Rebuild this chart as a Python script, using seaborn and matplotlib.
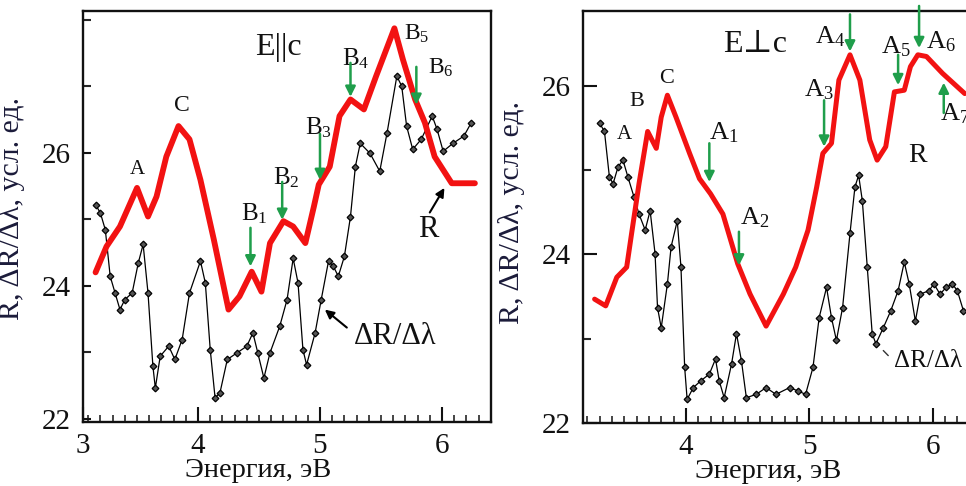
import numpy as np
import pandas as pd
import matplotlib
matplotlib.use("Agg")
import matplotlib.pyplot as plt
import seaborn as sns
from matplotlib.ticker import MultipleLocator

# ---------------- data ----------------
# Left panel, E||c : reflectivity R
l_R_E = [3.16, 3.25, 3.36, 3.50, 3.59, 3.66, 3.74, 3.84, 3.93, 4.02, 4.13, 4.25, 4.34,
         4.44, 4.52, 4.59, 4.70, 4.78, 4.88, 4.95, 4.99, 5.08, 5.16, 5.25, 5.36, 5.46,
         5.61, 5.68, 5.78, 5.86, 5.94, 6.08, 6.27]
l_R_V = [24.20, 24.59, 24.89, 25.47, 25.04, 25.34, 25.94, 26.40, 26.20, 25.59, 24.69,
         23.64, 23.84, 24.21, 23.91, 24.64, 24.97, 24.89, 24.64, 25.19, 25.52, 25.79,
         26.55, 26.80, 26.65, 27.15, 27.87, 27.40, 26.80, 26.45, 25.94, 25.54, 25.54]
# Left panel, E||c : derivative dR/dlambda
l_D_E = [3.16, 3.20, 3.24, 3.28, 3.32, 3.36, 3.40, 3.46, 3.51, 3.55, 3.59, 3.63, 3.65,
         3.69, 3.76, 3.81, 3.87, 3.93, 4.02, 4.06, 4.10, 4.14, 4.18, 4.24, 4.32, 4.40,
         4.45, 4.49, 4.54, 4.59, 4.67, 4.73, 4.78, 4.82, 4.86, 4.89, 4.96, 5.01, 5.07,
         5.11, 5.15, 5.20, 5.25, 5.29, 5.33, 5.41, 5.49, 5.55, 5.63, 5.67, 5.71, 5.76,
         5.83, 5.92, 5.96, 6.01, 6.09, 6.18, 6.24]
l_D_V = [25.22, 25.09, 24.84, 24.14, 23.89, 23.64, 23.79, 23.89, 24.34, 24.62, 23.89,
         22.79, 22.46, 22.94, 23.09, 22.89, 23.19, 23.89, 24.37, 24.04, 23.04, 22.31,
         22.39, 22.89, 22.99, 23.09, 23.29, 22.99, 22.61, 22.99, 23.39, 23.79, 24.41,
         24.04, 23.04, 22.81, 23.29, 23.79, 24.37, 24.29, 24.14, 24.44, 25.04, 25.79,
         26.14, 25.99, 25.72, 26.30, 27.15, 27.00, 26.40, 26.05, 26.20, 26.55, 26.35,
         26.02, 26.14, 26.25, 26.45]

# Right panel, E_|_c : reflectivity R
r_R_E = [3.26, 3.35, 3.44, 3.52, 3.56, 3.62, 3.69, 3.76, 3.80, 3.85, 3.92, 4.03, 4.11,
         4.20, 4.30, 4.42, 4.52, 4.65, 4.79, 4.89, 4.99, 5.06, 5.11, 5.18, 5.24, 5.33,
         5.41, 5.49, 5.55, 5.62, 5.69, 5.77, 5.82, 5.88, 5.95, 6.08, 6.26]
r_R_V = [23.47, 23.39, 23.73, 23.85, 24.25, 24.84, 25.46, 25.26, 25.63, 25.89, 25.63,
         25.20, 24.90, 24.72, 24.48, 23.89, 23.53, 23.15, 23.53, 23.85, 24.29, 24.80,
         25.20, 25.32, 26.07, 26.37, 26.07, 25.36, 25.12, 25.28, 25.93, 25.95, 26.23,
         26.37, 26.35, 26.15, 25.91]
# Right panel, E_|_c : derivative dR/dlambda
r_D_E = [3.30, 3.34, 3.38, 3.41, 3.45, 3.49, 3.53, 3.58, 3.62, 3.67, 3.71, 3.75, 3.77,
         3.80, 3.85, 3.88, 3.93, 3.96, 3.99, 4.01, 4.06, 4.12, 4.19, 4.24, 4.27, 4.31,
         4.37, 4.41, 4.45, 4.49, 4.57, 4.65, 4.73, 4.84, 4.91, 4.97, 5.03, 5.08, 5.14,
         5.18, 5.22, 5.27, 5.33, 5.37, 5.40, 5.43, 5.47, 5.51, 5.54, 5.60, 5.66, 5.72,
         5.77, 5.81, 5.86, 5.90, 5.97, 6.01, 6.06, 6.11, 6.16, 6.20, 6.25]
r_D_V = [25.56, 25.46, 24.92, 24.84, 25.04, 25.12, 24.92, 24.68, 24.48, 24.29, 24.52,
         24.01, 23.37, 23.13, 23.65, 24.09, 24.40, 23.85, 22.66, 22.28, 22.42, 22.50,
         22.58, 22.76, 22.50, 22.30, 22.70, 23.06, 22.74, 22.30, 22.34, 22.42, 22.34,
         22.42, 22.38, 22.34, 22.66, 23.25, 23.61, 23.25, 22.98, 23.37, 24.25, 24.80,
         24.94, 24.64, 23.85, 23.06, 22.94, 23.13, 23.33, 23.57, 23.91, 23.65, 23.21,
         23.53, 23.57, 23.65, 23.53, 23.61, 23.65, 23.57, 23.33]

x_ticks = [4, 5, 6]
x_tick_labels = ["4", "5", "6"]
y_ticks = [22, 24, 26]
y_tick_labels = ["22", "24", "26"]

# ---------------- style ----------------
sns.set_style("white")
plt.rcParams["font.family"] = ["Liberation Serif", "DejaVu Serif"]
plt.rcParams["mathtext.fontset"] = "custom"
plt.rcParams["mathtext.rm"] = "Liberation Serif"
plt.rcParams["mathtext.it"] = "Liberation Serif:italic"

RED = "#f21212"
GREEN = "#1f9e4b"
LABC = "#1b1b3a"

fig = plt.figure(figsize=(9.66, 4.86), dpi=100)
W, H = 966.0, 486.0
ax1 = fig.add_axes([83 / W, 1 - 422 / H, 408 / W, 411 / H])
ax2 = fig.add_axes([583 / W, 1 - 423 / H, 399 / W, 412 / H])


def style_axes(ax, xlim, ylim, xlabel_x, ylabel_pos, maj_len_y):
    ax.set_xlim(*xlim)
    ax.set_ylim(*ylim)
    for s in ax.spines.values():
        s.set_linewidth(1.7)
        s.set_color("#111111")
    ax.xaxis.set_minor_locator(MultipleLocator(0.1))
    ax.yaxis.set_minor_locator(MultipleLocator(1.0))
    ax.tick_params(axis="x", which="major", direction="in", length=11, width=1.5,
                   labelsize=21, pad=8, colors="#111111", bottom=True)
    ax.tick_params(axis="x", which="minor", direction="in", length=5, width=1.2,
                   bottom=True)
    ax.tick_params(axis="y", which="major", direction="in", length=maj_len_y, width=1.5,
                   labelsize=21, pad=9, colors="#111111", left=True)
    ax.tick_params(axis="y", which="minor", direction="in", length=6, width=1.5,
                   left=True)
    ax.set_yticks(y_ticks, labels=y_tick_labels)
    ax.set_xlabel("Энергия, эВ", fontsize=20.5, color="#111111")
    ax.xaxis.set_label_coords(xlabel_x, -0.088)
    ax.set_ylabel("R, ΔR/Δλ, усл. ед.", fontsize=21.5, color=LABC)
    ax.yaxis.set_label_coords(*ylabel_pos)
    ax.grid(False)


def draw_curves(ax, dE, dV, rE, rV, red_lw):
    dfd = pd.DataFrame({"E": dE, "V": dV})
    dfr = pd.DataFrame({"E": rE, "V": rV})
    sns.lineplot(data=dfd, x="E", y="V", ax=ax, color="black", lw=0.9, sort=False,
                 marker="D", markersize=3.4, markerfacecolor="#555555",
                 markeredgecolor="black", markeredgewidth=0.9, zorder=3)
    sns.lineplot(data=dfr, x="E", y="V", ax=ax, color=RED, lw=red_lw, sort=False,
                 solid_joinstyle="round", solid_capstyle="round", zorder=4)


def green_arrow(ax, x, y_from, y_to):
    ax.annotate("", xy=(x, y_to), xytext=(x, y_from),
                arrowprops=dict(arrowstyle="-|>", color=GREEN, lw=1.8,
                                mutation_scale=15, shrinkA=0, shrinkB=0),
                zorder=6, annotation_clip=False)


def black_arrow(ax, xy_from, xy_to):
    ax.annotate("", xy=xy_to, xytext=xy_from,
                arrowprops=dict(arrowstyle="-|>", color="black", lw=1.5,
                                mutation_scale=13, shrinkA=0, shrinkB=0), zorder=6)


# ---------------- left panel ----------------
draw_curves(ax1, l_D_E, l_D_V, l_R_E, l_R_V, 4.2)
style_axes(ax1, (3.057, 6.402), (21.95, 28.13), 0.43, (-0.142, 0.52), 6)
ax1.set_xticks([3.057] + x_ticks, labels=["3"] + x_tick_labels)

t = dict(ha="center", va="center", color="#111111")
ax1.text(4.66, 27.58, "E||c", fontsize=23, **t)
ax1.text(3.50, 25.74, "A", fontsize=15, **t)
ax1.text(3.87, 26.71, "C", fontsize=17, **t)
ax1.text(4.46, 25.08, r"$\mathrm{B}_{1}$", fontsize=18, **t)
ax1.text(4.72, 25.62, r"$\mathrm{B}_{2}$", fontsize=18, **t)
ax1.text(4.99, 26.38, r"$\mathrm{B}_{3}$", fontsize=18, **t)
ax1.text(5.29, 27.42, r"$\mathrm{B}_{4}$", fontsize=18, **t)
ax1.text(5.79, 27.78, r"$\mathrm{B}_{5}$", fontsize=17, **t)
ax1.text(5.99, 27.27, r"$\mathrm{B}_{6}$", fontsize=17, **t)
green_arrow(ax1, 4.43, 24.87, 24.29)
green_arrow(ax1, 4.69, 25.56, 24.99)
green_arrow(ax1, 5.00, 26.28, 25.59)
green_arrow(ax1, 5.25, 27.35, 26.84)
green_arrow(ax1, 5.79, 27.29, 26.72)
ax1.text(5.89, 24.84, "R", fontsize=22, **t)
black_arrow(ax1, (5.90, 25.10), (6.02, 25.47))
ax1.text(5.62, 23.23, "ΔR/Δλ", fontsize=22, **t)
black_arrow(ax1, (5.22, 23.37), (5.04, 23.64))

# ---------------- right panel ----------------
draw_curves(ax2, r_D_E, r_D_V, r_R_E, r_R_V, 3.6)
style_axes(ax2, (3.166, 6.40), (22.0, 26.89), 0.464, (-0.145, 0.51), 10)
ax2.set_xticks(x_ticks, labels=x_tick_labels)

ax2.text(4.56, 26.49, "E⊥c", fontsize=23, **t)
ax2.text(3.50, 25.42, "A", fontsize=15, **t)
ax2.text(3.60, 25.81, "B", fontsize=16, **t)
ax2.text(3.84, 26.09, "C", fontsize=16, **t)
ax2.text(4.31, 25.44, r"$\mathrm{A}_{1}$", fontsize=19, **t)
ax2.text(4.56, 24.44, r"$\mathrm{A}_{2}$", fontsize=19, **t)
ax2.text(5.08, 25.95, r"$\mathrm{A}_{3}$", fontsize=19, **t)
ax2.text(5.17, 26.59, r"$\mathrm{A}_{4}$", fontsize=19, **t)
ax2.text(5.70, 26.47, r"$\mathrm{A}_{5}$", fontsize=19, **t)
ax2.text(6.07, 26.53, r"$\mathrm{A}_{6}$", fontsize=19, **t)
ax2.text(6.18, 25.67, r"$\mathrm{A}_{7}$", fontsize=19, **t)
green_arrow(ax2, 4.19, 25.32, 24.86)
green_arrow(ax2, 4.43, 24.27, 23.87)
green_arrow(ax2, 5.12, 25.83, 25.28)
green_arrow(ax2, 5.33, 26.85, 26.41)
green_arrow(ax2, 5.72, 26.37, 26.01)
green_arrow(ax2, 5.89, 26.95, 26.45)
green_arrow(ax2, 6.09, 25.68, 26.04)
ax2.text(5.88, 25.18, "R", fontsize=20, **t)
ax2.text(5.96, 22.74, "ΔR/Δλ", fontsize=18, **t)
ax2.plot([5.60, 5.64], [22.86, 22.80], color="#333333", lw=1.0)

fig.savefig("out.png", dpi=100, facecolor="white")
